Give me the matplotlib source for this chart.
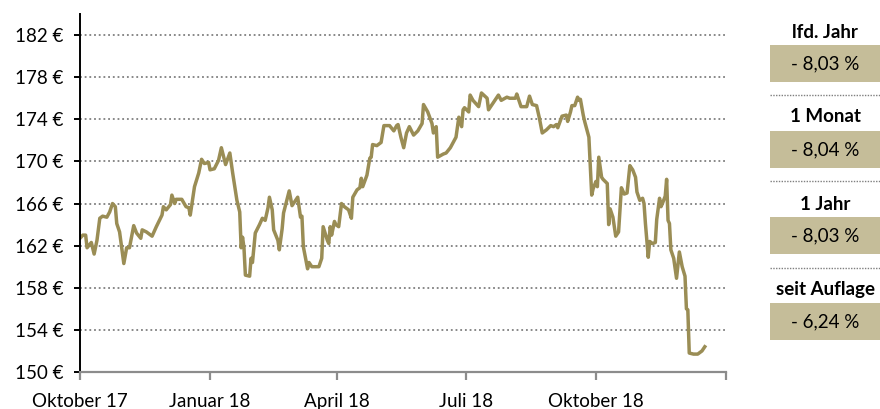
import matplotlib
matplotlib.use("Agg")
import matplotlib.pyplot as plt
from matplotlib.patches import Rectangle
from matplotlib.lines import Line2D
import pandas as pd

plt.rcParams['font.family'] = ['Lato', 'DejaVu Sans']

start = pd.Timestamp("2017-10-01")
day_offsets = [0, 2, 4, 5, 8, 10, 12, 14, 16, 19, 21, 23, 25, 26, 28, 31, 33, 35, 38, 40,
               43, 44, 47, 51, 54, 58, 59, 61, 64, 65, 67, 68, 72, 75, 77, 78, 81, 84, 86, 88,
               91, 92, 95, 98, 100, 103, 106, 108, 111, 113, 114, 115, 116, 117, 120, 121, 122, 124, 127, 129,
               131, 133, 134, 136, 137, 140, 141, 143, 144, 148, 150, 154, 156, 157, 158, 161, 162, 164, 169, 171,
               172, 175, 176, 177, 178, 180, 181, 183, 185, 187, 190, 192, 193, 196, 198, 199, 200, 203, 205, 206,
               207, 210, 213, 215, 219, 222, 224, 225, 227, 229, 231, 233, 236, 239, 242, 243, 246, 249, 250, 252,
               253, 257, 259, 262, 264, 266, 268, 270, 271, 272, 275, 276, 278, 282, 284, 288, 289, 292, 296, 298,
               302, 304, 308, 309, 312, 316, 317, 318, 320, 323, 325, 327, 330, 333, 335, 337, 338, 341, 344, 345,
               347, 348, 350, 352, 353, 354, 356, 357, 360, 361, 362, 363, 365, 366, 367, 369, 370, 373, 374, 375,
               377, 379, 381, 383, 385, 387, 389, 391, 393, 394, 396, 398, 399, 400, 402, 403, 405, 407, 408, 410,
               411, 412, 414, 415, 416, 417, 418, 420, 422, 424, 426, 428, 429, 430, 431, 434, 437, 438, 440, 442]
prices = [162.7, 163.0, 163.0, 161.8, 162.3, 161.2, 162.5, 164.6, 164.8, 164.7, 165.2, 166.0, 165.7, 164.1, 163.3, 160.3, 161.8, 161.8, 163.9, 163.2,
          162.7, 163.5, 163.3, 162.9, 163.8, 164.9, 165.7, 165.4, 165.9, 166.8, 166.0, 166.4, 166.4, 165.7, 165.6, 164.9, 167.6, 168.9, 170.2, 169.8,
          169.9, 169.2, 169.3, 170.1, 171.3, 169.7, 170.8, 168.9, 166.3, 165.2, 161.8, 162.8, 161.8, 159.2, 159.1, 160.8, 160.4, 163.2, 164.0, 164.6,
          164.4, 165.6, 166.6, 165.4, 163.5, 162.5, 161.6, 163.6, 165.1, 167.2, 165.8, 166.6, 164.7, 164.8, 161.9, 159.8, 160.4, 160.0, 160.0, 160.8,
          163.8, 162.5, 162.2, 163.8, 163.0, 164.3, 164.0, 163.8, 166.0, 165.7, 165.4, 164.6, 166.6, 167.3, 167.5, 168.4, 167.6, 168.7, 170.3, 170.4,
          171.6, 171.5, 171.8, 173.4, 173.4, 172.9, 173.4, 173.5, 172.3, 171.3, 172.7, 173.3, 172.5, 172.9, 173.6, 175.4, 174.7, 173.6, 172.7, 173.3,
          170.4, 170.7, 170.8, 171.3, 171.8, 172.3, 174.2, 173.3, 174.9, 175.1, 174.7, 176.3, 175.8, 175.2, 176.5, 176.0, 174.9, 175.5, 176.3, 175.8,
          176.1, 176.0, 176.0, 176.4, 175.2, 175.2, 175.7, 176.2, 175.4, 175.3, 174.1, 172.7, 173.0, 173.4, 173.3, 173.5, 173.2, 174.3, 174.4, 173.8,
          174.7, 175.3, 175.3, 176.1, 175.8, 175.9, 174.4, 173.8, 172.3, 169.5, 166.8, 167.4, 168.1, 167.6, 170.4, 168.5, 168.3, 167.9, 164.0, 165.5,
          164.7, 162.9, 163.3, 167.5, 166.9, 167.0, 169.6, 169.2, 168.5, 167.1, 166.3, 166.5, 166.0, 164.1, 160.9, 162.4, 162.2, 162.3, 164.5, 166.5,
          165.7, 166.0, 166.7, 168.3, 164.4, 164.1, 161.6, 160.8, 158.9, 161.4, 160.0, 159.1, 156.0, 155.9, 151.8, 151.7, 151.7, 151.8, 152.0, 152.4]

x_tick_dates = ["2017-10-01", "2018-01-01", "2018-04-01", "2018-07-01", "2018-10-01", "2019-01-01"]
x_tick_labels = ["Oktober 17", "Januar 18", "April 18", "Juli 18", "Oktober 18", ""]
y_ticks = [150, 154, 158, 162, 166, 170, 174, 178, 182]

panel_labels = ["lfd. Jahr", "1 Monat", "1 Jahr", "seit Auflage"]
panel_values = ["- 8,03 %", "- 8,04 %", "- 8,03 %", "- 6,24 %"]

line_color = "#9a8d55"
box_color = "#c5bd99"
FS = 13.5

dates = [start + pd.Timedelta(days=d) for d in day_offsets]

fig = plt.figure(figsize=(8.8, 4.09), dpi=100)
ax = fig.add_axes([80/880, 1-372/409, 646/880, 358/409])
ax.plot(dates, prices, color=line_color, lw=2.5, solid_joinstyle='round')

ax.set_ylim(150, 184)
ax.set_xlim(pd.Timestamp(x_tick_dates[0]), pd.Timestamp(x_tick_dates[-1]))
ax.set_yticks(y_ticks)
ax.set_yticklabels([f"{v} €" for v in y_ticks])
ax.set_xticks([pd.Timestamp(d) for d in x_tick_dates])
ax.set_xticklabels(x_tick_labels)

for v in y_ticks[1:]:
    ax.axhline(v, color="#7f7f7f", lw=1.3, ls=(0, (1, 1.6)), zorder=0)

for s in ["top", "right"]:
    ax.spines[s].set_visible(False)
ax.spines["left"].set_color("black")
ax.spines["left"].set_linewidth(1.4)
ax.spines["bottom"].set_color("#8c8c8c")
ax.spines["bottom"].set_linewidth(1.6)
ax.tick_params(axis="y", length=4, width=1.4, color="black", labelsize=FS, pad=8, labelcolor="black")
ax.tick_params(axis="x", length=6, width=1.6, color="#8c8c8c", labelsize=FS, pad=9, labelcolor="black")

# right panel
W, H = 880, 409
label_y = [33, 117, 205, 289]
box_top = [45, 131, 217, 303]
sep_y = [95, 181, 268]
bx0, bx1, bh = 770, 880, 37
for lab, val, ly, bt in zip(panel_labels, panel_values, label_y, box_top):
    fig.text((bx0 + bx1) / 2 / W, 1 - ly / H, lab, ha="center", va="center",
             fontsize=FS, fontweight="bold", color="black")
    fig.add_artist(Rectangle((bx0 / W, 1 - (bt + bh) / H), (bx1 - bx0) / W, bh / H,
                             transform=fig.transFigure, facecolor=box_color, edgecolor="none"))
    fig.text((bx0 + bx1) / 2 / W, 1 - (bt + bh / 2) / H, val, ha="center", va="center",
             fontsize=FS, color="black")
for sy in sep_y:
    fig.add_artist(Line2D([bx0 / W, bx1 / W], [1 - sy / H, 1 - sy / H], transform=fig.transFigure,
                          color="#7f7f7f", lw=1.0, ls=(0, (1, 1))))

fig.savefig("out.png", dpi=100)
